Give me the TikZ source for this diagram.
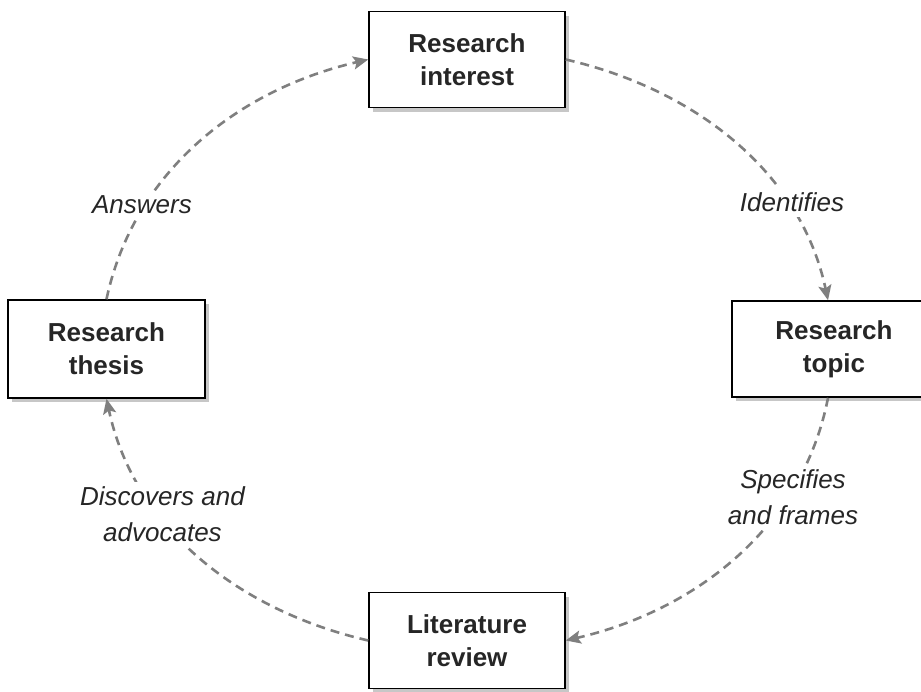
\documentclass[tikz,border=0pt]{standalone}
\usepackage{fontspec}
\setmainfont{Liberation Sans}
\usetikzlibrary{arrows.meta,shadows}
\definecolor{linegray}{HTML}{7F7F7F}
\tikzset{
  x=1pt,y=1pt,
  stagebox/.style={draw=black,line width=1.5pt,fill=white,
    minimum width=196pt,minimum height=96pt,align=center,text=black!85,
    font=\fontsize{26}{33}\selectfont\bfseries,
    drop shadow={shadow xshift=4pt,shadow yshift=-4pt,fill=black!22,opacity=1}},
  flow/.style={draw=linegray,line width=2.6pt,dash pattern=on 9pt off 6pt,
    -{Stealth[length=15pt,width=13pt,inset=3pt]}},
  lbl/.style={fill=white,inner sep=5pt,align=center,text=black!85,
    font=\fontsize{26}{36}\selectfont\itshape}
}
\begin{document}
\begin{tikzpicture}
\useasboundingbox (0,0) rectangle (921,-691);
\clip (0,0) rectangle (921,-691);
\fill[white] (0,0) rectangle (921,-691);
\node[stagebox] (ri)  at (467,-59.5) {Research\\interest};
\node[stagebox,minimum width=204pt] (rt)  at (834,-349) {Research\\topic};
\node[stagebox] (lr)  at (467,-640.5) {Literature\\review};
\node[stagebox,minimum width=197pt,minimum height=98pt] (rth) at (106.5,-349) {Research\\thesis};

\draw[flow] (ri.east) to[out=-13,in=102,looseness=0.95] (rt.97);
\draw[flow] (rt.-97) to[out=-101,in=13,looseness=0.95] (lr.east);
\draw[flow] (lr.west) to[out=167,in=-78,looseness=0.95] (rth.south);
\draw[flow] (rth.north) to[out=78,in=193,looseness=0.95] (ri.west);

\node[lbl] (l1) at (792,-202) {Identifies};
\node[lbl] (l2) at (793,-497) {Specifies\\and frames};
\node[lbl] (l3) at (162.5,-514.5) {Discovers and\\advocates};
\node[lbl] (l4) at (142,-205) {Answers};
\end{tikzpicture}
\end{document}
